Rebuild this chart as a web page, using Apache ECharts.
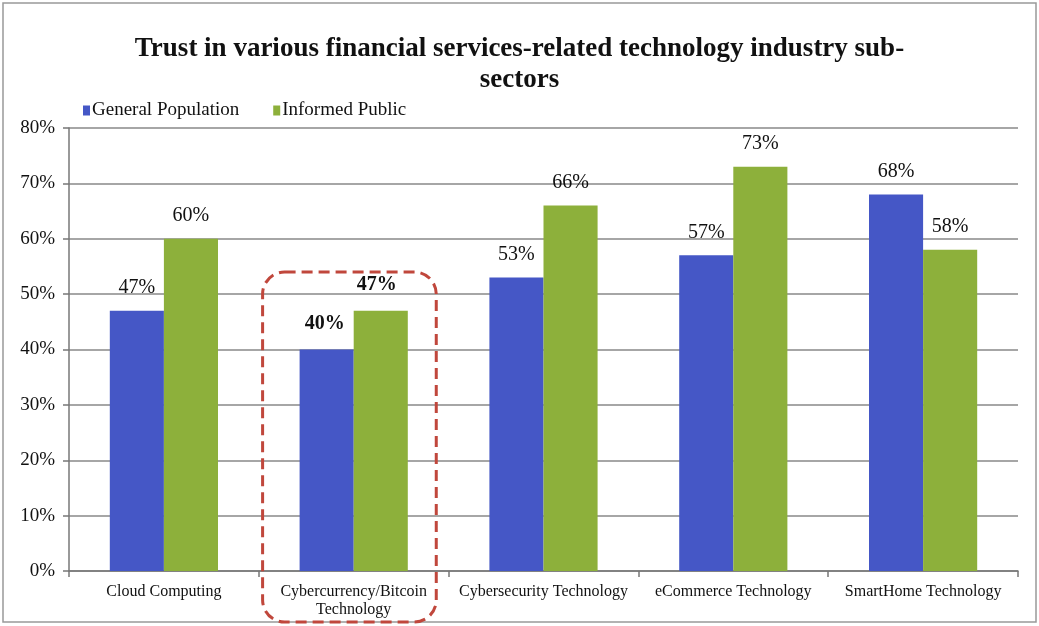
<!DOCTYPE html>
<html>
<head>
<meta charset="utf-8">
<script src="https://cdn.jsdelivr.net/npm/echarts@6/dist/echarts.min.js"></script>
<style>
html,body{margin:0;padding:0;background:#fff;}
#c{width:1039px;height:626px;}
</style>
</head>
<body>
<div id="c"></div>
<script>
const categories = ['Cloud Computing', 'Cybercurrency/Bitcoin\nTechnology', 'Cybersecurity Technology', 'eCommerce Technology', 'SmartHome Technology'];
const generalPopulation = [47, 40, 53, 57, 68];
const informedPublic = [60, 47, 66, 73, 58];
const yTicks = [0, 10, 20, 30, 40, 50, 60, 70, 80];
const highlightIndex = 1;

const serif = '"Liberation Serif", "Times New Roman", serif';
const chart = echarts.init(document.getElementById('c'));

function labelFor() {
  return {
    show: true,
    position: 'top',
    distance: 13,
    formatter: p => p.value + '%',
    fontFamily: serif,
    fontSize: 20,
    color: '#111'
  };
}

function makeData(arr, dx) {
  return arr.map((v, i) => i === highlightIndex
    ? { value: v, label: { fontWeight: 'bold', distance: 16, offset: [dx, 0] } }
    : v);
}

chart.setOption({
  animation: false,
  backgroundColor: '#fff',
  title: {
    text: 'Trust in various financial services-related technology industry sub-\nsectors',
    left: 'center',
    top: 29,
    textStyle: { fontFamily: serif, fontWeight: 'bold', fontSize: 27, color: '#111', lineHeight: 31 }
  },
  legend: {
    left: 78,
    top: 96,
    itemWidth: 7,
    itemHeight: 10,
    itemGap: 34,
    icon: 'rect',
    textStyle: { fontFamily: serif, fontSize: 19, color: '#111', padding: [0, 0, 0, -3] }
  },
  grid: { left: 69, right: 21, top: 128, bottom: 55, containLabel: false },
  xAxis: {
    type: 'category',
    data: categories,
    axisLine: { lineStyle: { color: '#777', width: 1.5 } },
    axisTick: { show: true, length: 6, lineStyle: { color: '#777', width: 1.5 } },
    axisLabel: { fontFamily: serif, fontSize: 16, color: '#111', margin: 12, lineHeight: 18, interval: 0 }
  },
  yAxis: {
    type: 'value',
    min: 0,
    max: 80,
    interval: 10,
    axisLine: { show: true, lineStyle: { color: '#777', width: 1.5 } },
    axisTick: { show: true, length: 6, inside: false, lineStyle: { color: '#777', width: 1.5 } },
    splitLine: { lineStyle: { color: '#888', width: 1.5 } },
    axisLabel: {
      fontFamily: serif, fontSize: 19, color: '#111', margin: 14,
      formatter: v => yTicks.includes(v) ? v + '%' : ''
    }
  },
  series: [
    {
      name: 'General Population',
      type: 'bar',
      data: makeData(generalPopulation, -2),
      barGap: '0%',
      barCategoryGap: '43%',
      itemStyle: { color: '#4557c6' },
      label: labelFor()
    },
    {
      name: 'Informed Public',
      type: 'bar',
      data: makeData(informedPublic, -4),
      barGap: '0%',
      barCategoryGap: '43%',
      itemStyle: { color: '#8db03b' },
      label: labelFor()
    }
  ]
});

function drawOverlay() {
  const c = chart.convertToPixel({ xAxisIndex: 0 }, highlightIndex);
  const c0 = chart.convertToPixel({ xAxisIndex: 0 }, 0);
  const step = c - c0;
  const topY = chart.convertToPixel({ yAxisIndex: 0 }, 54);
  const w = chart.getWidth(), h = chart.getHeight();
  chart.setOption({
    graphic: [
      {
        type: 'rect',
        silent: true,
        shape: { x: 3, y: 3, width: w - 6, height: h - 7 },
        style: { fill: 'none', stroke: '#999', lineWidth: 1.5 }
      },
      {
        type: 'rect',
        silent: true,
        z: 100,
        shape: { x: c - step * 0.48, y: topY, width: step * 0.915, height: h - 4 - topY, r: 22 },
        style: { fill: 'none', stroke: '#c0473c', lineWidth: 3, lineDash: [11, 6] }
      }
    ]
  });
}
drawOverlay();
</script>
</body>
</html>
